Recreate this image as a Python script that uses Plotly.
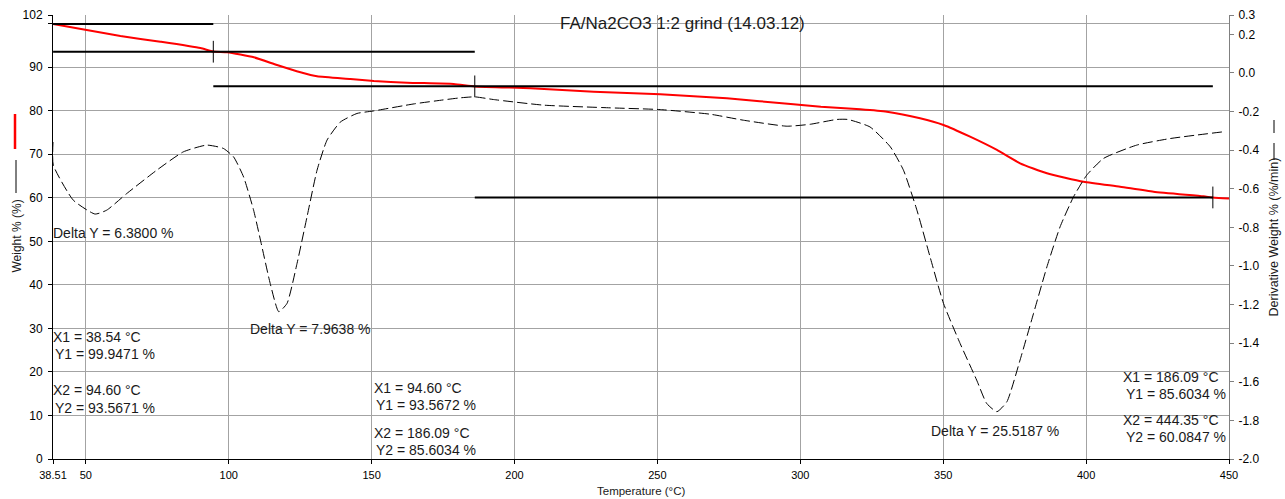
import plotly.graph_objects as go

# ---------------- data ----------------
# Weight % curve (red), temperature in °C
temp_w = [38.51, 50.3, 62.1, 76.1, 90.1, 94.6, 99.5, 108.8, 116.9, 125.1, 130.9, 142.6,
          150.8, 162.4, 178.7, 186.1, 205.6, 227.7, 251.0, 274.3, 297.6, 307.2, 321.0,
          330.3, 341.9, 350.1, 359.4, 368.8, 376.9, 386.3, 399.1, 411.9, 423.6, 441.1,
          444.35, 450.0]
weight = [99.95, 98.55, 97.17, 95.86, 94.4, 93.6, 93.43, 92.28, 90.51, 88.84, 87.92, 87.30,
          86.84, 86.45, 86.15, 85.60, 85.16, 84.38, 83.78, 82.86, 81.49, 80.93, 80.34,
          79.78, 78.27, 76.73, 74.04, 70.99, 67.93, 65.63, 63.70, 62.55, 61.40, 60.35,
          60.08, 59.85]

# Derivative weight curve (dashed), %/min
temp_d = [38.51, 38.6, 45.6, 53.2, 57.3, 64.3, 74.8, 84.1, 92.3, 98.1, 101.7, 105.2, 108.7,
          111.1, 114.5, 117.5, 120.4, 123.9, 127.4, 130.9, 134.4, 139.1, 144.9, 150.7,
          165.0, 175.0, 181.1, 186.1, 192.7, 210.2, 233.5, 251.0, 268.5, 280.1, 295.3,
          303.5, 312.8, 316.6, 324.4, 331.5, 336.1, 340.8, 345.4, 350.1, 355.9, 361.7,
          365.2, 368.8, 372.3, 376.9, 381.6, 386.3, 390.9, 395.6, 400.2, 406.1, 417.7,
          429.4, 448.0]
deriv = [-0.358, -0.477, -0.659, -0.731, -0.711, -0.625, -0.504, -0.409, -0.374, -0.391,
         -0.435, -0.539, -0.711, -0.866, -1.09, -1.237, -1.194, -0.987, -0.745, -0.504,
         -0.348, -0.254, -0.21, -0.197, -0.16, -0.14, -0.129, -0.124, -0.138, -0.167,
         -0.181, -0.19, -0.214, -0.245, -0.276, -0.266, -0.241, -0.241, -0.28, -0.383,
         -0.504, -0.711, -0.953, -1.194, -1.401, -1.591, -1.712, -1.755, -1.703, -1.487,
         -1.246, -1.004, -0.797, -0.642, -0.53, -0.443, -0.374, -0.34, -0.305]

# Step-change analyses
step_x1 = [38.54, 94.60, 186.09]
step_y1 = [99.9471, 93.5672, 85.6034]
step_x2 = [94.60, 186.09, 444.35]
step_y2 = [93.5671, 85.6034, 60.0847]
step_delta = [6.3800, 7.9638, 25.5187]

# Axis ticks
x_ticks = [38.51, 50, 100, 150, 200, 250, 300, 350, 400, 450]
x_ticklabels = ["38.51", "50", "100", "150", "200", "250", "300", "350", "400", "450"]
y_ticks = [0, 10, 20, 30, 40, 50, 60, 70, 80, 90, 100, 102]
y_ticklabels = ["0", "10", "20", "30", "40", "50", "60", "70", "80", "90", "", "102"]
y2_ticks = [0.3, 0.2, 0.0, -0.2, -0.4, -0.6, -0.8, -1.0, -1.2, -1.4, -1.6, -1.8, -2.0]
y2_ticklabels = ["%.1f" % v for v in y2_ticks]

title_text = "FA/Na2CO3 1:2 grind (14.03.12)"

# ---------------- layout helpers ----------------
L, R, T, B = 53, 56, 15, 40
W_PX, H_PX = 1285, 499
PW, PH = W_PX - L - R, H_PX - T - B


def pxx(px):
    return (px - L) / PW


def pxy(py):
    return (H_PX - B - py) / PH


FONT = "Liberation Sans, Arial, sans-serif"
TXT = "#1a1a1a"

fig = go.Figure()

# derivative curve (right axis)
fig.add_trace(go.Scatter(x=temp_d, y=deriv, mode="lines", yaxis="y2",
                         line=dict(color="black", width=1, dash="10px,4px", shape="spline",
                                   smoothing=0.5),
                         showlegend=False, hoverinfo="skip"))
# weight curve
fig.add_trace(go.Scatter(x=temp_w, y=weight, mode="lines",
                         line=dict(color="#ff0000", width=2, shape="spline", smoothing=0.5),
                         showlegend=False, hoverinfo="skip"))

# step lines
for x1, y1, x2, y2 in zip(step_x1, step_y1, step_x2, step_y2):
    fig.add_trace(go.Scatter(x=[x1, x2], y=[y1, y1], mode="lines",
                             line=dict(color="black", width=2), showlegend=False,
                             hoverinfo="skip"))
    fig.add_trace(go.Scatter(x=[x1, x2], y=[y2, y2], mode="lines",
                             line=dict(color="black", width=2), showlegend=False,
                             hoverinfo="skip"))
    fig.add_trace(go.Scatter(x=[x2, x2], y=[y2 - 2.5, y2 + 2.5], mode="lines",
                             line=dict(color="black", width=1), showlegend=False,
                             hoverinfo="skip"))

annotations = []


def add_text(text, px, py, size=14, anchor="left", angle=0):
    annotations.append(dict(text=text, x=pxx(px), y=pxy(py), xref="paper", yref="paper",
                            xanchor=anchor, yanchor="middle", showarrow=False,
                            textangle=angle, borderpad=0,
                            font=dict(family=FONT, size=size, color=TXT)))


# delta annotations
delta_pos = [(52, 233), (249, 329), (930, 431)]
for d, (px, py) in zip(step_delta, delta_pos):
    add_text("Delta Y = %.4f %%" % d, px, py)

# X/Y annotations
xy_pos = [((52, 337), (54, 354), (52, 390), (54, 408)),
          ((373, 388), (375, 405), (373, 433), (375, 450)),
          ((1122, 377), (1124.5, 393.5), (1122, 419.5), (1124.5, 437))]
for i, pos in enumerate(xy_pos):
    add_text("X1 = %.2f °C" % step_x1[i], *pos[0])
    add_text("Y1 = %.4f %%" % step_y1[i], *pos[1])
    add_text("X2 = %.2f °C" % step_x2[i], *pos[2])
    add_text("Y2 = %.4f %%" % step_y2[i], *pos[3])

# title
add_text(title_text, 682.5, 23.3, size=17, anchor="center")
# axis titles
add_text("Temperature (°C)", 641, 491, size=11.5, anchor="center")
add_text("Weight % (%)", 17, 236.5, size=12, anchor="center", angle=-90)
add_text("Derivative Weight % (%/min)", 1273, 237.5, size=12.5, anchor="center", angle=-90)

shapes = [
    dict(type="line", xref="paper", yref="paper", x0=pxx(15), x1=pxx(15), y0=pxy(114),
         y1=pxy(149), line=dict(color="#ff0000", width=2.5)),
    dict(type="line", xref="paper", yref="paper", x0=pxx(16), x1=pxx(16), y0=pxy(160),
         y1=pxy(193), line=dict(color="black", width=1)),
    dict(type="line", xref="paper", yref="paper", x0=pxx(1274), x1=pxx(1274), y0=pxy(143),
         y1=pxy(160), line=dict(color="black", width=1)),
    dict(type="line", xref="paper", yref="paper", x0=pxx(1274), x1=pxx(1274), y0=pxy(120),
         y1=pxy(133), line=dict(color="black", width=1)),
]

GRID = "#a3a3a3"
fig.update_layout(
    width=W_PX, height=H_PX,
    margin=dict(l=L, r=R, t=T, b=B, pad=0, autoexpand=False),
    paper_bgcolor="white", plot_bgcolor="white",
    showlegend=False,
    annotations=annotations, shapes=shapes,
    xaxis=dict(range=[38.51, 450], tickvals=x_ticks, ticktext=x_ticklabels,
               showgrid=True, gridcolor=GRID, gridwidth=1, zeroline=False,
               showline=True, linecolor="black", linewidth=1, automargin=False,
               ticks="outside", ticklen=4, tickcolor="black", ticklabelstandoff=2,
               tickfont=dict(family=FONT, size=11, color="black")),
    yaxis=dict(range=[0, 102], tickvals=y_ticks, ticktext=y_ticklabels,
               showgrid=True, gridcolor=GRID, gridwidth=1, zeroline=False,
               showline=True, linecolor="black", linewidth=1, automargin=False,
               ticks="outside", ticklen=4, tickcolor="black", ticklabelstandoff=3,
               tickfont=dict(family=FONT, size=12, color="black")),
    yaxis2=dict(range=[-2.0, 0.3], tickvals=y2_ticks, ticktext=y2_ticklabels,
                overlaying="y", side="right", showgrid=False, zeroline=False,
                showline=True, linecolor="#808080", linewidth=1, automargin=False,
                ticks="outside", ticklen=4, tickcolor="#808080", ticklabelstandoff=2,
                tickfont=dict(family=FONT, size=12, color="black")),
)

fig.write_html("out.html")
